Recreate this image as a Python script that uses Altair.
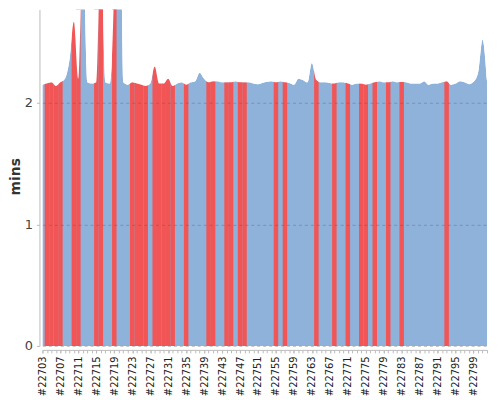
import altair as alt
import pandas as pd

# Build numbers (x categories)
builds = list(range(22703, 22803))
# Builds that carry a tick label
labelled = builds[::4]

# Build duration in minutes, one per build
mins = [
    2.15, 2.16, 2.17, 2.14, 2.17, 2.20, 2.35, 2.67, 2.20, 3.30,
    2.17, 2.16, 2.17, 3.35, 2.17, 2.16, 3.00, 5.00, 2.17, 2.15,
    2.17, 2.16, 2.15, 2.14, 2.16, 2.30, 2.16, 2.16, 2.20, 2.14,
    2.16, 2.17, 2.15, 2.17, 2.18, 2.25, 2.20, 2.17, 2.18, 2.18,
    2.17, 2.17, 2.17, 2.18, 2.17, 2.17, 2.17, 2.16, 2.155, 2.165,
    2.175, 2.18, 2.17, 2.18, 2.17, 2.165, 2.15, 2.20, 2.19, 2.17,
    2.33, 2.19, 2.17, 2.17, 2.165, 2.16, 2.17, 2.17, 2.16, 2.15,
    2.16, 2.16, 2.15, 2.16, 2.17, 2.18, 2.17, 2.17, 2.18, 2.17,
    2.175, 2.17, 2.16, 2.16, 2.16, 2.18, 2.15, 2.16, 2.16, 2.17,
    2.18, 2.15, 2.16, 2.18, 2.17, 2.155, 2.175, 2.25, 2.52, 2.18,
]

# Failed builds (all others succeeded)
failed = [
    22704, 22705, 22706, 22707, 22710, 22711, 22715, 22716, 22719,
    22723, 22724, 22725, 22726, 22728, 22729, 22730, 22731, 22732,
    22735, 22740, 22741, 22744, 22745, 22747, 22748, 22755, 22757,
    22764, 22768, 22771, 22774, 22775, 22777, 22780, 22783, 22793,
]

YMAX = 2.77          # top of the y scale
BEYOND = 2 * YMAX    # a level above the plot top (clipped away)
BLUE = "#8fb2da"
RED = "#f25555"
FONT = "DejaVu Sans"

df = pd.DataFrame({
    "build": builds,
    "mins": mins,
    "status": ["FAILURE" if b in failed else "SUCCESS" for b in builds],
})

xscale = alt.Scale(domain=[builds[0], builds[-1]], nice=False, zero=False)
yscale = alt.Scale(domain=[0, YMAX], nice=False)

# labelled axis (every 4th build)
xaxis = alt.Axis(
    orient="bottom", values=labelled,
    labelExpr="'#' + datum.value",
    labelAngle=270, labelFontSize=10, labelColor="#222", labelFont=FONT,
    labelOverlap=False, labelPadding=3, tickSize=3, tickColor="#bbb",
    domainColor="#bbb", offset=4, grid=False, title=None, zindex=1,
)
# tick-only axis (every build)
xaxis_ticks = alt.Axis(
    orient="bottom", values=builds, labels=False, domain=False,
    tickSize=3, tickColor="#bbb", offset=4, grid=False, title=None, zindex=1,
)
yaxis = alt.Axis(
    values=[0, 1, 2], format="d", grid=True, gridDash=[3, 3], gridColor="#555",
    gridOpacity=0.35, domainColor="#bbb", tickColor="#bbb", tickSize=3,
    labelFontSize=13, labelColor="#444", labelFont=FONT, labelPadding=4,
    offset=3, title="mins", titleFontSize=14, titleFontWeight="bold",
    titleColor="#333", titleFont=FONT, titleAngle=270, titleX=-20,
    titleY=168, titleAlign="center", titleBaseline="alphabetic", zindex=1,
)

base = alt.Chart(df)

blue_area = base.mark_area(color=BLUE, interpolate="monotone", clip=True).encode(
    x=alt.X("build:Q", scale=xscale, axis=xaxis),
    y=alt.Y("mins:Q", scale=yscale, axis=yaxis),
)

# red band for each failed build, half a build either side, reaching up to the
# highest neighbouring value so the white mask above the curve trims it
red_bands = base.transform_window(
    prev="lag(mins)", nxt="lead(mins)", sort=[alt.SortField("build")]
).transform_calculate(
    x0="datum.build - 0.5", x1="datum.build + 0.5",
    top="max(datum.mins, datum.prev || 0, datum.nxt || 0)",
).transform_filter(
    alt.datum.status == "FAILURE"
).mark_rect(color=RED, clip=True).encode(
    x=alt.X("x0:Q", axis=None), x2="x1:Q",
    y=alt.Y("top:Q", title="mins"), y2=alt.datum(0),
)

mask = base.mark_area(color="white", interpolate="monotone", clip=True).encode(
    x=alt.X("build:Q", axis=xaxis_ticks),
    y="mins:Q",
    y2=alt.datum(BEYOND),
)

chart = alt.layer(blue_area, red_bands, mask).resolve_axis(
    x="independent"
).properties(
    width=448, height=339,
    autosize=alt.AutoSizeParams(type="none"),
    padding={"left": 34.7, "top": 0, "right": 5, "bottom": 53},
    background="white",
).configure_view(stroke=None)

chart.save("out.html", embed_options={"renderer": "svg", "actions": False})
